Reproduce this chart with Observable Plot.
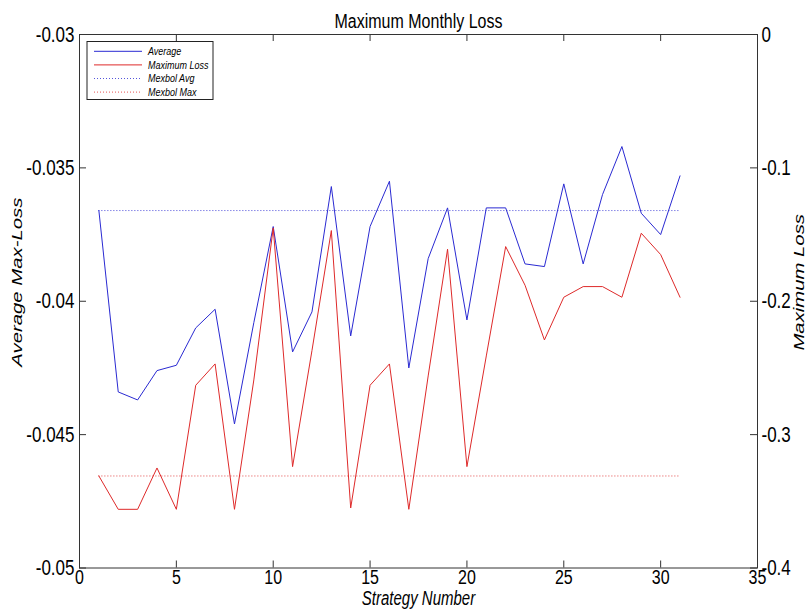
<!DOCTYPE html>
<html>
<head>
<meta charset="utf-8">
<script src="https://cdn.jsdelivr.net/npm/d3@7"></script>
<script src="https://cdn.jsdelivr.net/npm/@observablehq/plot@0.6"></script>
<style>
  html, body { margin: 0; padding: 0; background: #fff; }
  #chart { width: 811px; height: 611px; }
</style>
</head>
<body>
<div id="chart"></div>
<script>
// Strategy numbers and the two per-strategy statistics
const strategies = [1, 2, 3, 4, 5, 6, 7, 8, 9, 10, 11, 12, 13, 14, 15, 16,
  17, 18, 19, 20, 21, 22, 23, 24, 25, 26, 27, 28, 29, 30, 31];

// average monthly max-loss (left axis)
const average = [-0.0366, -0.0434, -0.0437, -0.0426, -0.0424, -0.0410, -0.0403,
  -0.0446, -0.0408, -0.0372, -0.0419, -0.0404, -0.0357, -0.0413, -0.0372,
  -0.0355, -0.0425, -0.0384, -0.0365, -0.0407, -0.0365, -0.0365, -0.0386,
  -0.0387, -0.0356, -0.0386, -0.0360, -0.0342, -0.0367, -0.0375, -0.0353];

// worst monthly loss (right axis)
const maximumLoss = [-0.331, -0.356, -0.356, -0.325, -0.356, -0.263, -0.247,
  -0.356, -0.259, -0.145, -0.324, -0.237, -0.147, -0.355, -0.263, -0.247,
  -0.356, -0.256, -0.161, -0.324, -0.241, -0.159, -0.188, -0.229, -0.197,
  -0.189, -0.189, -0.197, -0.149, -0.165, -0.197];

// benchmark (Mexbol index) levels
const mexbolAvg = -0.0366;
const mexbolMax = -0.331;

const xTicks = [0, 5, 10, 15, 20, 25, 30, 35];
const leftTicks = [-0.05, -0.045, -0.04, -0.035, -0.03];
const leftTickLabels = ["-0.05", "-0.045", "-0.04", "-0.035", "-0.03"];
const rightTicks = [-0.4, -0.3, -0.2, -0.1, 0];
const rightTickLabels = ["-0.4", "-0.3", "-0.2", "-0.1", "0"];
const seriesNames = ["Average", "Maximum Loss", "Mexbol Avg", "Mexbol Max"];

const titleText = "Maximum Monthly Loss";
const xLabel = "Strategy Number";
const yLeftLabel = "Average Max-Loss";
const yRightLabel = "Maximum Loss";

// Right-axis values are drawn on the left scale through this linear map
const toLeft = d3.scaleLinear().domain([-0.4, 0]).range([-0.05, -0.03]);

const rows = strategies.map((s, i) => ({s, avg: average[i], max: toLeft(maximumLoss[i])}));

const W = 811, H = 611;
const mL = 79, mR = 54, mT = 34, mB = 43.5;
const fw = W - mL - mR, fh = H - mT - mB;
const tickLen = 7;
const axisColor = "#333";
const blue = "#2a2ad2";
const red = "#de2a2a";
const font = "'Liberation Sans', Arial, Helvetica, sans-serif";

const plot = Plot.plot({
  width: W, height: H,
  marginLeft: mL, marginRight: mR, marginTop: mT, marginBottom: mB,
  style: {fontFamily: font, fontSize: "17px", color: "#000", background: "#fff", overflow: "visible"},
  x: {domain: [0, 35]},
  y: {domain: [-0.05, -0.03]},
  marks: [
    // benchmark levels
    Plot.ruleY([mexbolAvg], {x1: strategies[0], x2: strategies[strategies.length - 1],
      stroke: blue, strokeWidth: 1, strokeDasharray: "1,2", strokeOpacity: 0.85}),
    Plot.ruleY([toLeft(mexbolMax)], {x1: strategies[0], x2: strategies[strategies.length - 1],
      stroke: red, strokeWidth: 1, strokeDasharray: "1,2", strokeOpacity: 0.85}),
    // series
    Plot.line(rows, {x: "s", y: "avg", stroke: blue, strokeWidth: 1}),
    Plot.line(rows, {x: "s", y: "max", stroke: red, strokeWidth: 1}),
    // axes box with inward ticks
    Plot.frame({stroke: axisColor, strokeWidth: 1}),
    Plot.tickY(leftTicks, {y: d => d, insetRight: fw - tickLen, stroke: axisColor}),
    Plot.tickY(rightTicks.map(toLeft), {y: d => d, insetLeft: fw - tickLen, stroke: axisColor}),
    Plot.tickX(xTicks, {x: d => d, insetTop: fh - tickLen, stroke: axisColor}),
    Plot.tickX(xTicks, {x: d => d, insetBottom: fh - tickLen, stroke: axisColor}),
    // tick labels
    Plot.axisY(leftTicks, {anchor: "left", tickSize: 0, tickPadding: 5, label: null,
      tickFormat: d => leftTickLabels[leftTicks.indexOf(d)]}),
    Plot.axisY(rightTicks.map(toLeft), {anchor: "right", tickSize: 0, tickPadding: 4, label: null,
      tickFormat: d => rightTickLabels[rightTicks.findIndex(r => Math.abs(toLeft(r) - d) < 1e-9)]}),
    Plot.axisX(xTicks, {anchor: "bottom", tickSize: 0, tickPadding: 3, label: null, fontSize: 16}),
    // title and axis labels
    Plot.text([titleText], {frameAnchor: "top", dy: -20, text: d => d, textAnchor: "middle", fontSize: 16}),
    Plot.text([xLabel], {frameAnchor: "bottom", dy: 35, text: d => d, textAnchor: "middle",
      fontStyle: "italic", fontSize: 15}),
    Plot.text([yLeftLabel], {frameAnchor: "left", dx: -62, dy: -19, rotate: -90, text: d => d,
      textAnchor: "middle", fontStyle: "italic", fontSize: 15}),
    Plot.text([yRightLabel], {frameAnchor: "right", dx: 42, dy: -19, rotate: -90, text: d => d,
      textAnchor: "middle", fontStyle: "italic", fontSize: 15})
  ]
});

document.getElementById("chart").appendChild(plot);
const svg = d3.select(plot);

// Axis titles along the vertical axes have fixed lengths
const labelLengths = new Map([[yLeftLabel, 130], [yRightLabel, 105]]);
svg.selectAll("text").each(function () {
  const m = this.getCTM();
  const len = labelLengths.get(this.textContent);
  if (len && Math.abs(m.b) > Math.abs(m.a)) {
    this.setAttribute("textLength", len);
    this.setAttribute("lengthAdjust", "spacingAndGlyphs");
  }
});

// Legend box in the upper-left corner of the axes
const lg = svg.append("g").attr("transform", `translate(${mL + 8},${mT + 7.5})`);
lg.append("rect").attr("width", 126).attr("height", 58)
  .attr("fill", "#fff").attr("stroke", "#222").attr("stroke-width", 1);
const legendStyles = [
  {stroke: blue, dash: null},
  {stroke: red, dash: null},
  {stroke: blue, dash: "1,2"},
  {stroke: red, dash: "1,2"}
];
seriesNames.forEach((name, i) => {
  const yy = 9.8 + i * 13.6;
  lg.append("line").attr("x1", 7).attr("x2", 55).attr("y1", yy).attr("y2", yy)
    .attr("stroke", legendStyles[i].stroke).attr("stroke-width", 1)
    .attr("stroke-dasharray", legendStyles[i].dash)
    .attr("stroke-opacity", legendStyles[i].dash ? 0.8 : 1);
  lg.append("text").attr("x", 61).attr("y", yy).attr("dy", "0.32em")
    .attr("text-anchor", "start")
    .attr("font-size", 9).attr("font-style", "italic").attr("font-family", font)
    .attr("fill", "#000").text(name);
});

// Text in this figure is drawn tall and narrow: stretch every label along the
// screen's vertical direction about its own centre.
const stretch = 1.3;
svg.selectAll("text").each(function () {
  const b = this.getBBox();
  const m = this.getCTM();
  const t = this.getAttribute("transform") || "";
  const cx = b.x + b.width / 2, cy = b.y + b.height / 2;
  const vertical = Math.abs(m.b) > Math.abs(m.a); // local x runs along the screen's y
  const extra = vertical
    ? `translate(${cx},0) scale(${stretch},1) translate(${-cx},0)`
    : `translate(0,${cy}) scale(1,${stretch}) translate(0,${-cy})`;
  this.setAttribute("transform", (t + " " + extra).trim());
});
</script>
</body>
</html>
